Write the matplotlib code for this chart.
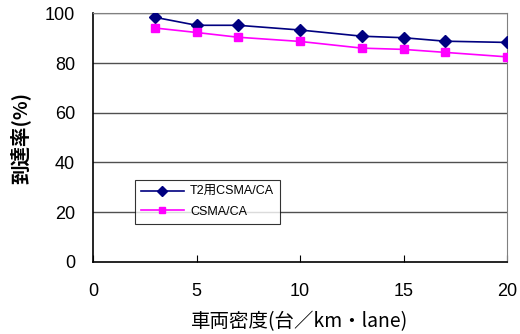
import matplotlib
matplotlib.use("Agg")
import matplotlib.pyplot as plt

plt.rcParams['font.family'] = ['Liberation Sans', 'Noto Sans CJK JP', 'DejaVu Sans']

density = [3, 5, 7, 10, 13, 15, 17, 20]
t2_csma = [98.4, 95.2, 95.2, 93.3, 90.8, 90.2, 88.8, 88.3]
csma = [94.1, 92.3, 90.4, 88.7, 86.0, 85.5, 84.3, 82.5]
labels = ['T2用CSMA/CA', 'CSMA/CA']

fig = plt.figure(figsize=(5.2, 3.34), dpi=100)
ax = fig.add_axes([0.179, 0.216, 0.796, 0.744])

for y in [20, 40, 60, 80, 100]:
    ax.axhline(y, color='#505050', lw=1.0, zorder=1)

ax.plot(density, t2_csma, color='#000080', marker='D', markersize=6,
        lw=1.2, label=labels[0], zorder=3)
ax.plot(density, csma, color='#ff00ff', marker='s', markersize=6,
        lw=1.2, label=labels[1], zorder=3)

ax.set_xlim(0, 20)
ax.set_ylim(0, 100)
ax.set_xticks([0, 5, 10, 15, 20])
ax.set_yticks([0, 20, 40, 60, 80, 100])
ax.tick_params(axis='x', direction='in', length=5, pad=15, labelsize=13)
ax.tick_params(axis='y', length=0, pad=13, labelsize=13)

for s in ['top', 'right']:
    ax.spines[s].set_color('#808080')
for s in ['left', 'bottom']:
    ax.spines[s].set_color('black')
    ax.spines[s].set_linewidth(1.2)

ax.set_xlabel('車両密度(台／km・lane)', fontsize=14, labelpad=8,
              family=['Noto Sans CJK JP', 'DejaVu Sans'])
ax.set_ylabel('到達率(%)', fontsize=14, fontweight='bold', labelpad=10,
              family=['Noto Sans CJK JP', 'DejaVu Sans'])

leg = ax.legend(loc='upper left', bbox_to_anchor=(0.101, 0.33), fontsize=9,
                frameon=True, fancybox=False, edgecolor='black',
                borderaxespad=0, borderpad=0.5, handlelength=3.4,
                handletextpad=0.5, labelspacing=0.6, markerscale=0.8)
leg.get_frame().set_linewidth(0.8)
leg.set_zorder(5)

fig.savefig('out.png', dpi=100)
